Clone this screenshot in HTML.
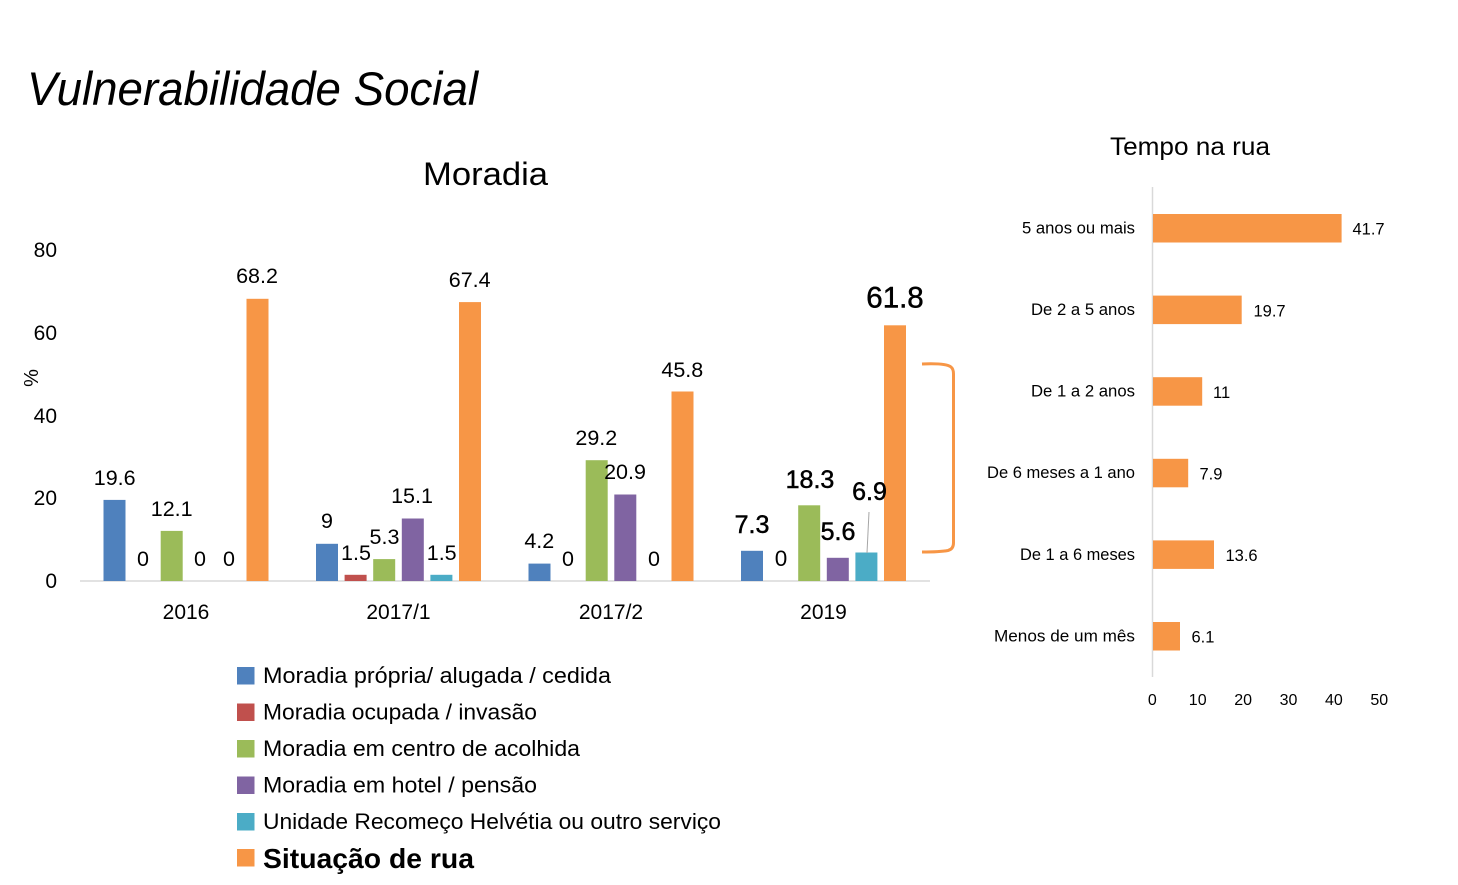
<!DOCTYPE html>
<html>
<head>
<meta charset="utf-8">
<style>
  html, body { margin: 0; padding: 0; background: #ffffff; }
  svg { display: block; }
  text { font-family: "Liberation Sans", "DejaVu Sans", sans-serif; fill: #000; }
</style>
</head>
<body>
<svg width="1458" height="885" viewBox="0 0 1458 885" xmlns="http://www.w3.org/2000/svg">
  <rect x="0" y="0" width="1458" height="885" fill="#ffffff"/>

  <!-- Main title -->
  <text x="27" y="105" font-size="47" font-style="italic" textLength="451" lengthAdjust="spacingAndGlyphs">Vulnerabilidade Social</text>

  <!-- Left chart title -->
  <text x="423" y="185" font-size="32" textLength="125" lengthAdjust="spacingAndGlyphs">Moradia</text>

  <!-- Y axis labels -->
  <g font-size="21" text-anchor="end">
    <text x="57" y="257">80</text>
    <text x="57" y="340">60</text>
    <text x="57" y="423">40</text>
    <text x="57" y="505">20</text>
    <text x="57" y="588">0</text>
  </g>
  <text x="0" y="0" font-size="20" text-anchor="middle" transform="translate(38,378) rotate(-90)">%</text>

  <!-- Axis line -->
  <line x1="80" y1="581" x2="930" y2="581" stroke="#d9d9d9" stroke-width="1.5"/>

  <!-- Bars 2016 -->
  <rect x="103.5" y="499.9" width="22" height="81.1" fill="#4F81BD"/>
  <rect x="160.7" y="530.9" width="22" height="50.1" fill="#9BBB59"/>
  <rect x="246.5" y="298.8" width="22" height="282.2" fill="#F79646"/>

  <!-- Bars 2017/1 -->
  <rect x="316" y="543.8" width="22" height="37.2" fill="#4F81BD"/>
  <rect x="344.6" y="574.8" width="22" height="6.2" fill="#C0504D"/>
  <rect x="373.2" y="559.1" width="22" height="21.9" fill="#9BBB59"/>
  <rect x="401.8" y="518.5" width="22" height="62.5" fill="#8064A2"/>
  <rect x="430.4" y="574.8" width="22" height="6.2" fill="#4BACC6"/>
  <rect x="459" y="302.1" width="22" height="278.9" fill="#F79646"/>

  <!-- Bars 2017/2 -->
  <rect x="528.5" y="563.6" width="22" height="17.4" fill="#4F81BD"/>
  <rect x="585.7" y="460.2" width="22" height="120.8" fill="#9BBB59"/>
  <rect x="614.3" y="494.5" width="22" height="86.5" fill="#8064A2"/>
  <rect x="671.5" y="391.5" width="22" height="189.5" fill="#F79646"/>

  <!-- Bars 2019 -->
  <rect x="741" y="550.8" width="22" height="30.2" fill="#4F81BD"/>
  <rect x="798.2" y="505.3" width="22" height="75.7" fill="#9BBB59"/>
  <rect x="826.8" y="557.8" width="22" height="23.2" fill="#8064A2"/>
  <rect x="855.4" y="552.5" width="22" height="28.5" fill="#4BACC6"/>
  <rect x="884" y="325.3" width="22" height="255.7" fill="#F79646"/>

  <!-- Data labels -->
  <g font-size="21.5" text-anchor="middle">
    <text x="114.7" y="485">19.6</text>
    <text x="143" y="566">0</text>
    <text x="171.7" y="516">12.1</text>
    <text x="200" y="566">0</text>
    <text x="229" y="566">0</text>
    <text x="257" y="283">68.2</text>

    <text x="327" y="528">9</text>
    <text x="356" y="560">1.5</text>
    <text x="384.5" y="544">5.3</text>
    <text x="412" y="503">15.1</text>
    <text x="441.7" y="560">1.5</text>
    <text x="469.7" y="287">67.4</text>

    <text x="539.3" y="548">4.2</text>
    <text x="568" y="566">0</text>
    <text x="596.3" y="445">29.2</text>
    <text x="625" y="479">20.9</text>
    <text x="654" y="566">0</text>
    <text x="682.3" y="377">45.8</text>

    <text x="781" y="566" font-size="22.5">0</text>
  </g>
  <g text-anchor="middle" stroke="#000" stroke-width="0.5">
    <text x="752" y="533" font-size="25">7.3</text>
    <text x="810" y="488" font-size="25">18.3</text>
    <text x="838" y="540" font-size="25">5.6</text>
    <text x="869.5" y="500" font-size="25">6.9</text>
    <text x="895" y="307.5" font-size="29.5">61.8</text>
  </g>
  <line x1="869" y1="512" x2="867" y2="553" stroke="#a6a6a6" stroke-width="1"/>

  <!-- Category labels -->
  <g font-size="21" text-anchor="middle">
    <text x="186" y="619">2016</text>
    <text x="398.5" y="619">2017/1</text>
    <text x="611" y="619">2017/2</text>
    <text x="823.5" y="619">2019</text>
  </g>

  <!-- Bracket -->
  <path d="M922,364 Q946,363 951,367 Q953.5,369 953.5,374 L953.5,543 Q953.5,549 948,550.5 Q940,552 922,552" fill="none" stroke="#F79646" stroke-width="3"/>

  <!-- Legend -->
  <g>
    <rect x="237" y="667" width="17.5" height="17.5" fill="#4F81BD"/>
    <rect x="237" y="703.5" width="17.5" height="17.5" fill="#C0504D"/>
    <rect x="237" y="740" width="17.5" height="17.5" fill="#9BBB59"/>
    <rect x="237" y="776.5" width="17.5" height="17.5" fill="#8064A2"/>
    <rect x="237" y="813" width="17.5" height="17.5" fill="#4BACC6"/>
    <rect x="237" y="849" width="17.5" height="17.5" fill="#F79646"/>
  </g>
  <g font-size="22">
    <text x="263" y="683" textLength="348" lengthAdjust="spacingAndGlyphs">Moradia própria/ alugada / cedida</text>
    <text x="263" y="719.5" textLength="274" lengthAdjust="spacingAndGlyphs">Moradia ocupada / invasão</text>
    <text x="263" y="756" textLength="317" lengthAdjust="spacingAndGlyphs">Moradia em centro de acolhida</text>
    <text x="263" y="792.5" textLength="274" lengthAdjust="spacingAndGlyphs">Moradia em hotel / pensão</text>
    <text x="263" y="829" textLength="458" lengthAdjust="spacingAndGlyphs">Unidade Recomeço Helvétia ou outro serviço</text>
  </g>
  <text x="263" y="868" font-size="28" font-weight="bold" textLength="211" lengthAdjust="spacingAndGlyphs">Situação de rua</text>

  <!-- Right chart -->
  <text x="1110" y="155" font-size="25" textLength="160" lengthAdjust="spacingAndGlyphs">Tempo na rua</text>

  <line x1="1152.5" y1="187" x2="1152.5" y2="677" stroke="#d9d9d9" stroke-width="1.5"/>

  <rect x="1153" y="214" width="188.6" height="28.5" fill="#F79646"/>
  <rect x="1153" y="295.6" width="88.7" height="28.5" fill="#F79646"/>
  <rect x="1153" y="377.2" width="49.2" height="28.5" fill="#F79646"/>
  <rect x="1153" y="458.8" width="35.2" height="28.5" fill="#F79646"/>
  <rect x="1153" y="540.4" width="61" height="28.5" fill="#F79646"/>
  <rect x="1153" y="622" width="27" height="28.5" fill="#F79646"/>

  <g font-size="16.5" text-anchor="end">
    <text x="1135" y="233.5" textLength="113" lengthAdjust="spacingAndGlyphs">5 anos ou mais</text>
    <text x="1135" y="315" textLength="104" lengthAdjust="spacingAndGlyphs">De 2 a 5 anos</text>
    <text x="1135" y="396.5" textLength="104" lengthAdjust="spacingAndGlyphs">De 1 a 2 anos</text>
    <text x="1135" y="478" textLength="148" lengthAdjust="spacingAndGlyphs">De 6 meses a 1 ano</text>
    <text x="1135" y="560" textLength="115" lengthAdjust="spacingAndGlyphs">De 1 a 6 meses</text>
    <text x="1135" y="641.5" textLength="141" lengthAdjust="spacingAndGlyphs">Menos de um mês</text>
  </g>

  <g font-size="16.5">
    <text x="1352.5" y="234.5">41.7</text>
    <text x="1253.5" y="316.5">19.7</text>
    <text x="1213" y="398">11</text>
    <text x="1199.5" y="479.5">7.9</text>
    <text x="1225.5" y="561">13.6</text>
    <text x="1191.5" y="642.5">6.1</text>
  </g>

  <g font-size="16" text-anchor="middle">
    <text x="1152.3" y="705">0</text>
    <text x="1197.7" y="705">10</text>
    <text x="1243.1" y="705">20</text>
    <text x="1288.5" y="705">30</text>
    <text x="1333.9" y="705">40</text>
    <text x="1379.3" y="705">50</text>
  </g>
</svg>
</body>
</html>
